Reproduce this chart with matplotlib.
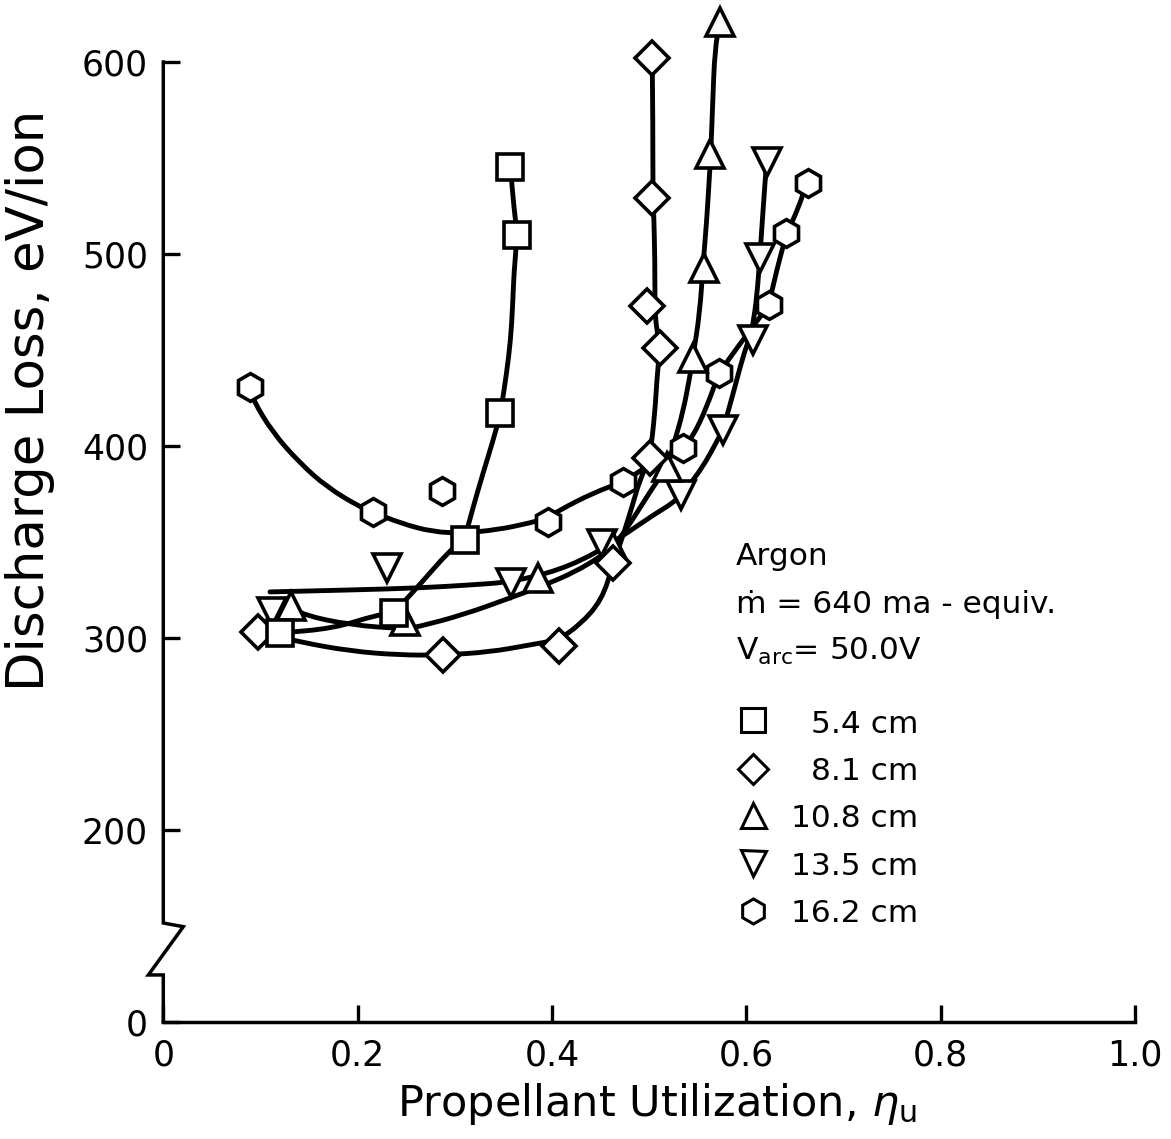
import numpy as np
import matplotlib
matplotlib.use("Agg")
import matplotlib.pyplot as plt
from matplotlib.path import Path
from matplotlib.patches import PathPatch

plt.rcParams["font.family"] = ["DejaVu Sans"]
plt.rcParams["mathtext.fontset"] = "dejavusans"

# ---- measured points: propellant utilization vs discharge loss (eV/ion) ----
sq_x = [0.120, 0.237, 0.310, 0.347, 0.364, 0.357]
sq_y = [302.6, 312.9, 351.0, 417.0, 509.9, 545.5]

di_x = [0.097, 0.288, 0.407, 0.463, 0.501, 0.511, 0.498, 0.503, 0.503]
di_y = [303.1, 291.1, 295.8, 338.9, 393.6, 450.9, 472.9, 529.3, 602.2]

up_x = [0.131, 0.249, 0.386, 0.463, 0.518, 0.545, 0.556, 0.563, 0.573]
up_y = [316.8, 309.0, 331.1, 347.4, 389.2, 445.7, 492.6, 552.0, 621.0]

dn_x = [0.112, 0.230, 0.358, 0.451, 0.533, 0.576, 0.607, 0.614, 0.621]
dn_y = [313.7, 336.3, 328.8, 349.0, 374.5, 408.3, 455.2, 497.8, 548.1]

hx_x = [0.089, 0.216, 0.287, 0.396, 0.473, 0.535, 0.572, 0.623, 0.641, 0.663]
hx_y = [430.6, 365.5, 376.6, 360.6, 381.4, 398.8, 437.9, 473.4, 510.8, 536.8]

# ---- faired curves drawn through each data set ----
sq_fit_x = [0.120, 0.175, 0.2195, 0.2366, 0.2607, 0.295, 0.3097, 0.319, 0.329,
            0.3395, 0.347, 0.3533, 0.3574, 0.3595, 0.3608, 0.3642, 0.3608,
            0.3584, 0.3567]
sq_fit_y = [302.6, 305.0, 312.0, 312.9, 325.9, 345.8, 351.0, 368.4, 385.8,
            403.1, 417.0, 437.9, 455.2, 472.6, 489.9, 509.9, 524.6, 538.5,
            545.5]

di_fit_x = [0.0974, 0.1406, 0.1921, 0.2435, 0.2878, 0.3361, 0.3773, 0.4061,
            0.4287, 0.4513, 0.4627, 0.475, 0.4822, 0.4904, 0.5007, 0.5059,
            0.5079, 0.511, 0.5069, 0.5059, 0.5059, 0.5048, 0.5038, 0.5038,
            0.5031]
di_fit_y = [303.1, 297.9, 293.2, 291.1, 291.1, 292.7, 296.4, 299.0, 306.8,
            319.8, 338.0, 356.3, 368.2, 382.3, 393.8, 417.2, 434.4, 451.0,
            464.1, 472.4, 496.9, 519.3, 535.9, 569.8, 602.1]

up_fit_x = [0.1314, 0.1437, 0.1921, 0.2487, 0.2610, 0.3083, 0.3598, 0.3927,
            0.4236, 0.4493, 0.4627, 0.4781, 0.4956, 0.5110, 0.5192, 0.5264,
            0.5346, 0.5418, 0.5449, 0.5521, 0.5552, 0.5593, 0.5624, 0.5634,
            0.5655, 0.5676, 0.5727]
up_fit_y = [316.7, 312.0, 306.8, 304.7, 305.7, 312.0, 321.4, 327.6, 334.4,
            342.2, 347.4, 357.8, 371.9, 383.9, 389.1, 403.1, 417.2, 435.9,
            445.8, 469.3, 492.7, 517.7, 543.8, 551.6, 580.2, 606.3, 620.8]

dn_fit_x = [0.1098, 0.1921, 0.2610, 0.3155, 0.3587, 0.4081, 0.4493, 0.4771,
            0.5059, 0.5244, 0.5336, 0.5470, 0.5593, 0.5676, 0.5758, 0.5861,
            0.5964, 0.6036, 0.6067, 0.6108, 0.6139, 0.6170, 0.6208]
dn_fit_y = [324.0, 325.0, 326.0, 327.6, 329.2, 335.4, 345.3, 354.7, 364.6,
            370.3, 375.0, 383.3, 392.7, 400.5, 408.3, 426.6, 446.4, 456.8,
            463.0, 477.6, 497.9, 521.4, 547.9]

hx_fit_x = [0.0892, 0.0923, 0.1129, 0.1406, 0.1684, 0.2024, 0.2158, 0.2435,
            0.2775, 0.3083, 0.3433, 0.3772, 0.3958, 0.4081, 0.4421, 0.4730,
            0.4874, 0.5110, 0.5346, 0.5449, 0.5593, 0.5717, 0.5964, 0.6118,
            0.6231, 0.6313, 0.6416, 0.6529, 0.6622]
hx_fit_y = [430.7, 424.0, 406.8, 391.1, 378.6, 368.2, 365.6, 359.9, 355.2,
            354.7, 356.3, 359.9, 362.5, 366.7, 375.5, 381.3, 385.9, 393.8,
            399.0, 404.7, 420.3, 438.0, 455.2, 465.6, 473.4, 491.7, 511.0,
            523.0, 537.0]

x_ticks = [0.0, 0.2, 0.4, 0.6, 0.8, 1.0]
x_tick_labels = ["0", "0.2", "0.4", "0.6", "0.8", "1.0"]
y_ticks = [0, 200, 300, 400, 500, 600]
y_tick_labels = ["0", "200", "300", "400", "500", "600"]

series_labels = ["5.4 cm", "8.1 cm", "10.8 cm", "13.5 cm", "16.2 cm"]

W, H = 1171, 1139
fig = plt.figure(figsize=(W / 100, H / 100), dpi=100)
ax = fig.add_axes([163.3 / W, (H - 1022) / H, (1135 - 163.3) / W, (1022 - 4.4) / H])


# broken ordinate: 0-200 compressed to half scale, linear above 200
def _fwd(y):
    y = np.asarray(y, dtype=float)
    return np.where(y < 200, y / 2.0, y - 100.0)


def _inv(s):
    s = np.asarray(s, dtype=float)
    return np.where(s < 100, s * 2.0, s + 100.0)


ax.set_yscale("function", functions=(_fwd, _inv))
ax.set_xlim(0, 1.0)
ax.set_ylim(0, 630)

LW = 3.5
MEW = 2.6


def faired_curve(xs, ys):
    """French-curve style path: corners at the vertices are rounded with
    quadratic Bezier segments between the mid-points of neighbouring legs."""
    pts = np.column_stack([xs, ys])
    verts = [pts[0], (pts[0] + pts[1]) / 2]
    codes = [Path.MOVETO, Path.LINETO]
    for i in range(1, len(pts) - 1):
        verts += [pts[i], (pts[i] + pts[i + 1]) / 2]
        codes += [Path.CURVE3, Path.CURVE3]
    verts.append(pts[-1])
    codes.append(Path.LINETO)
    return Path(np.array(verts), codes)


for fx_, fy_ in [(hx_fit_x, hx_fit_y), (dn_fit_x, dn_fit_y), (up_fit_x, up_fit_y),
                 (di_fit_x, di_fit_y), (sq_fit_x, sq_fit_y)]:
    ax.add_patch(PathPatch(faired_curve(fx_, fy_), facecolor="none",
                           edgecolor="black", lw=LW, capstyle="round",
                           joinstyle="round", zorder=2, clip_on=False))

mk = dict(markerfacecolor="white", markeredgecolor="black",
          markeredgewidth=MEW, linestyle="none", clip_on=False)
ax.plot(hx_x, hx_y, marker="h", markersize=20, zorder=3, **mk)
ax.plot(dn_x, dn_y, marker="v", markersize=20, zorder=4, **mk)
ax.plot(up_x, up_y, marker="^", markersize=20, zorder=5, **mk)
ax.plot(di_x, di_y, marker="D", markersize=17, zorder=6, **mk)
ax.plot(sq_x, sq_y, marker="s", markersize=18.5, zorder=7, **mk)

# axes frame: bottom spine only, left axis drawn by hand with a break
for side in ["top", "right", "left"]:
    ax.spines[side].set_visible(False)
ax.spines["bottom"].set_linewidth(2.5)
ax.spines["bottom"].set_capstyle("projecting")

brk_x = [0, 0, -0.0154, 0.0206, 0, 0]
brk_y = [0, 49.0, 49.0, 99.3, 103.1, 600]
ax.plot(brk_x, brk_y, color="black", lw=2.5, solid_joinstyle="miter",
        clip_on=False, zorder=2)

ax.set_xticks(x_ticks)
ax.set_xticklabels(x_tick_labels)
ax.set_yticks(y_ticks)
ax.set_yticklabels(y_tick_labels)
ax.minorticks_off()
ax.tick_params(axis="both", direction="in", length=12, width=2.4,
               labelsize=25, color="black")
ax.tick_params(axis="x", pad=12)
ax.tick_params(axis="y", pad=11)

ax.set_xlabel(r"Propellant Utilization, $\eta_\mathregular{u}$", fontsize=31)
ax.xaxis.set_label_coords(0.508, -0.081)
ax.xaxis.label.set_va("center")

fig.text(30 / W, 1 - 400 / H, "Discharge Loss, eV/ion", rotation=90,
         ha="center", va="center", fontsize=37)


def fpos(px, py):
    return px / W, 1 - py / H


# annotation block
fs = 22.5
fig.text(*fpos(736, 565), "Argon", fontsize=fs, va="baseline", ha="left")
fig.text(*fpos(736, 613), "ṁ = 640 ma - equiv.", fontsize=fs, va="baseline", ha="left")
fig.text(*fpos(736, 660), r"V$_\mathregular{arc}$= 50.0V", fontsize=fs,
         va="baseline", ha="left")

leg_markers = [("s", 17), ("D", 15.5), ("^", 18), ("v", 18), ("h", 18)]
leg_rows = [720, 769, 815, 863, 911]
leg_base = [733, 780, 827, 875, 922]
for (m, ms), yr, yb, lab in zip(leg_markers, leg_rows, leg_base, series_labels):
    mx, my = fpos(753, yr)
    fig.add_artist(plt.Line2D([mx], [my], marker=m, markersize=ms,
                              markerfacecolor="white", markeredgecolor="black",
                              markeredgewidth=2.2, linestyle="none",
                              transform=fig.transFigure))
    fig.text(*fpos(918, yb), lab, fontsize=fs, va="baseline", ha="right")

fig.savefig("out.png", dpi=100)
